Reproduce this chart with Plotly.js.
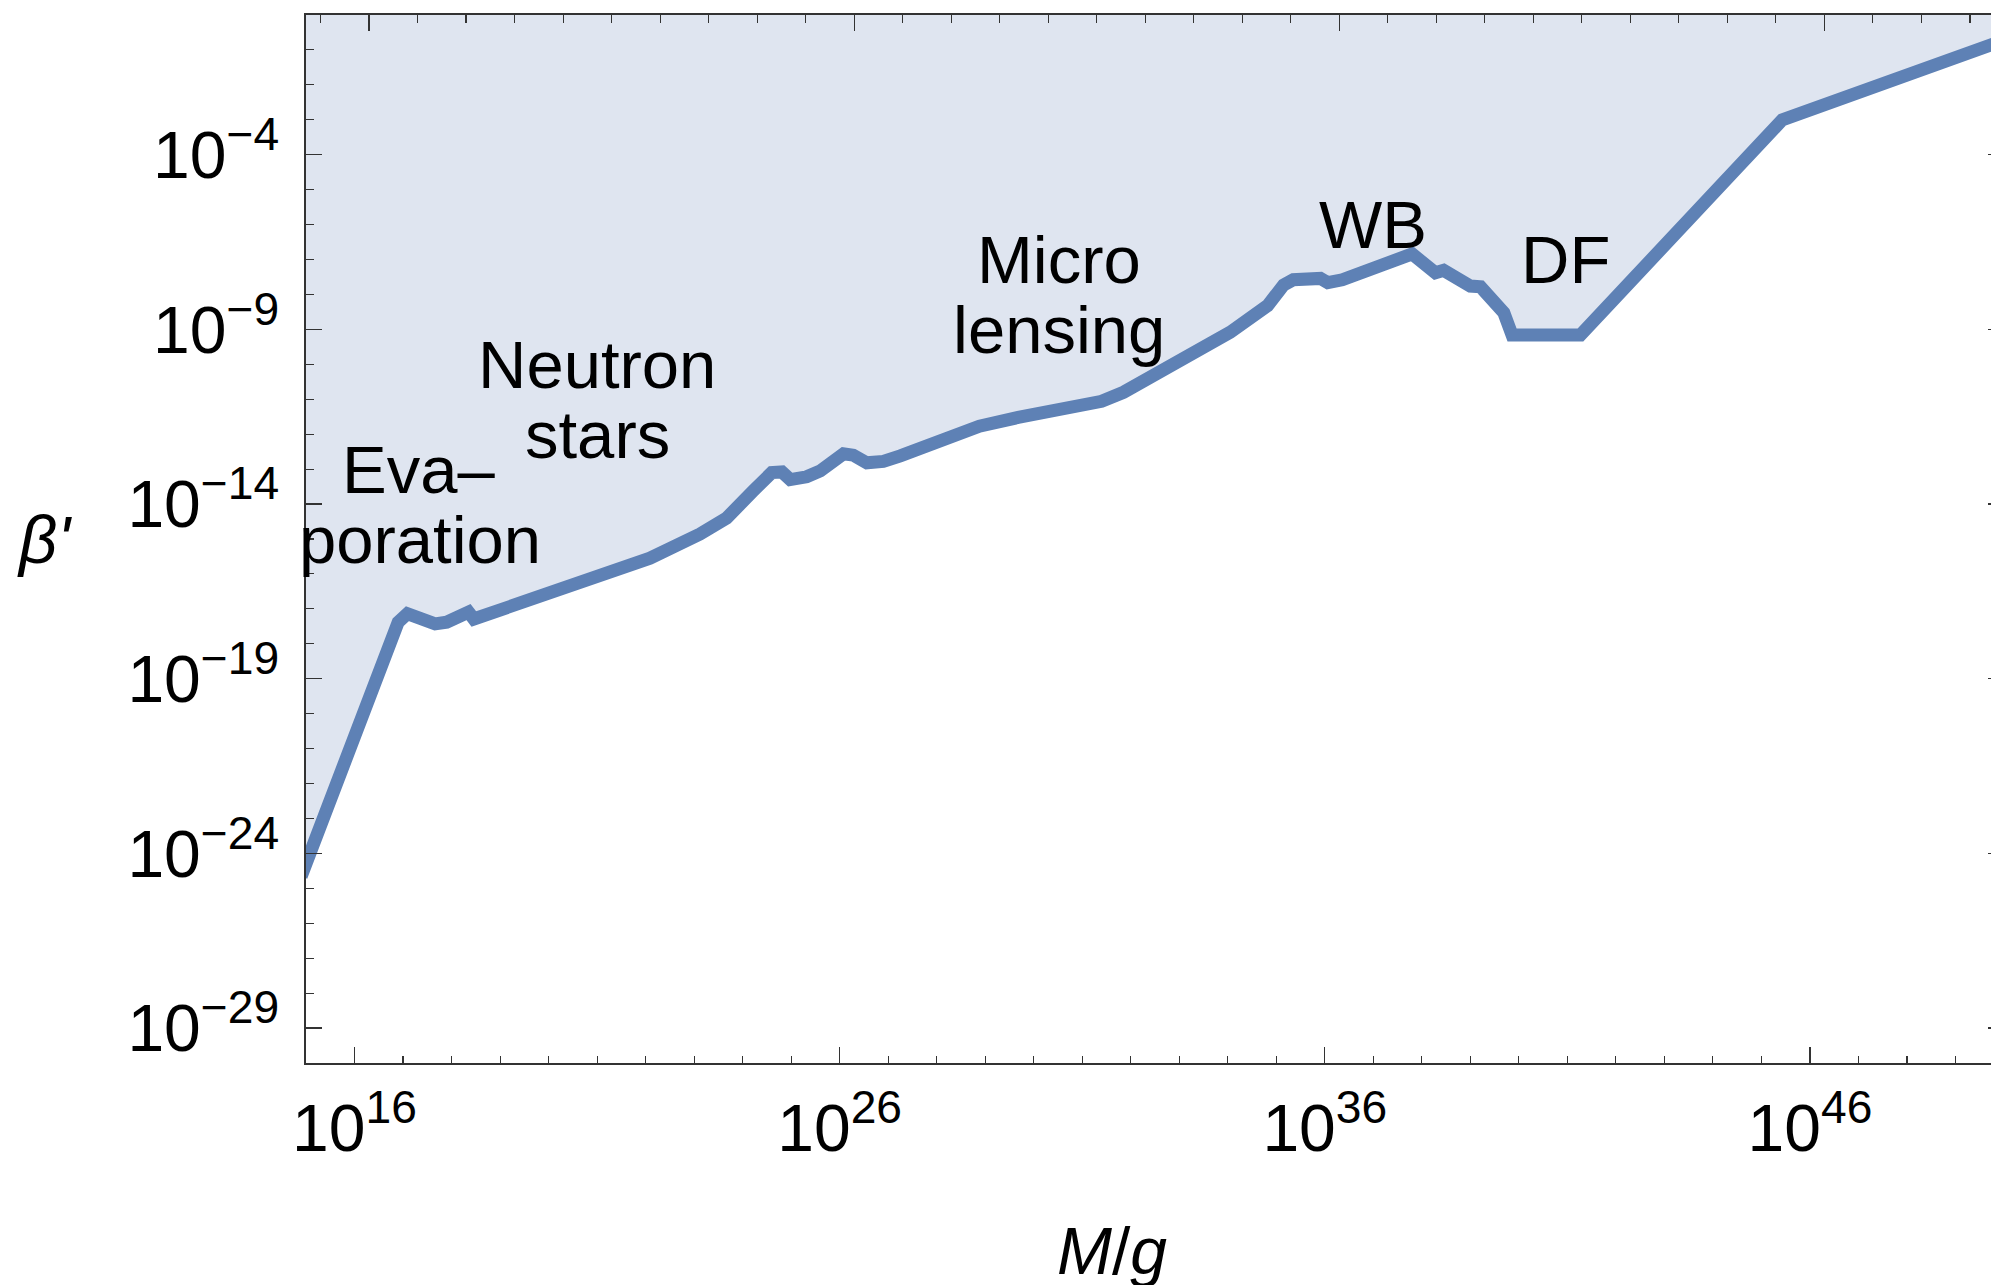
<!DOCTYPE html>
<html>
<head>
<meta charset="utf-8">
<script src="https://cdn.plot.ly/plotly-3.0.1.min.js"></script>
<style>
  html, body { margin: 0; padding: 0; overflow: hidden; background: #ffffff; }
  #chart { width: 2010px; height: 1285px; }
</style>
</head>
<body>
<div id="chart"></div>
<script>
// Upper bound on the primordial black hole fraction beta' versus mass M (grams).
// Both series are stored as powers of ten.
const massExp = [14.9, 16.90, 17.09, 17.42, 17.66, 17.90, 18.35, 18.46, 20.24, 22.09,
                 23.12, 23.67, 24.22, 24.60, 24.81, 24.98, 25.32, 25.60, 26.08, 26.28,
                 26.56, 26.90, 27.25, 27.87, 28.88, 29.68, 30.75, 31.40, 31.85, 32.32, 33.34,
                 34.05, 34.82, 35.15, 35.35, 35.70, 35.91, 36.06, 36.36, 37.80, 38.04,
                 38.28, 38.45, 39.00, 39.21, 39.69, 39.86, 41.27, 45.43, 50.0];
const betaExp = [-24.66, -17.38, -17.14, -17.33, -17.43, -17.38, -17.09, -17.29, -16.45, -15.55,
                 -14.86, -14.40, -13.62, -13.10, -13.08, -13.30, -13.22, -13.05, -12.56, -12.60,
                 -12.82, -12.78, -12.62, -12.28, -11.77, -11.52, -11.28, -11.06, -10.80, -10.42, -9.70,
                 -9.08, -8.32, -7.73, -7.58, -7.50, -7.54, -7.66, -7.58, -6.84, -7.10,
                 -7.38, -7.31, -7.76, -7.78, -8.52, -9.16, -9.16, -3.00, -0.72];

// Axis extents (powers of ten)
const xRangeExp = [15, 50];
const yRangeExp = [-30, 0];

// Tick marks and labels
const xMajorExp = [16, 26, 36, 46];
const xTickLabels = ['10<sup>16</sup>', '10<sup>26</sup>', '10<sup>36</sup>', '10<sup>46</sup>'];
const yMajorExp = [-29, -24, -19, -14, -9, -4];
const yTickLabels = ['10<sup>\u221229</sup>', '10<sup>\u221224</sup>', '10<sup>\u221219</sup>',
                     '10<sup>\u221214</sup>', '10<sup>\u22129</sup>', '10<sup>\u22124</sup>'];
// Top frame ticks mark decades of solar mass
const SOLAR_MASS_G = 1.989e33;
const topMajorSolarExp = [-17, -7, 3, 13];

// Constraint region labels
const regionLabels = ['Eva\u2013', 'poration', 'Neutron', 'stars', 'Micro', 'lensing', 'WB', 'DF'];
const regionLabelMassExp = [17.32, 17.35, 21.0, 21.0, 30.53, 30.52, 37.0, 40.96];
const regionLabelBetaExp = [-13.0, -15.0, -10.0, -12.0, -7.0, -9.0, -6.0, -7.0];

const pow10 = e => Math.pow(10, e);
const decades = (a, b) => { const out = []; for (let e = a; e <= b; e++) out.push(e); return out; };

const massG = massExp.map(pow10);
const beta = betaExp.map(pow10);

const lineColor = '#5e81b5';
const fillColor = '#dfe5f0';
const frameColor = '#333333';
const fontFamily = 'Liberation Sans, Arial, Helvetica, sans-serif';

// Ceiling of the plot, used as the upper edge of the excluded region
const ceiling = {
  x: massG, y: massG.map(() => pow10(yRangeExp[1])),
  mode: 'lines', line: { width: 0, color: fillColor },
  hoverinfo: 'skip', showlegend: false
};
const bound = {
  x: massG, y: beta,
  mode: 'lines', fill: 'tonexty', fillcolor: fillColor,
  line: { color: lineColor, width: 13 },
  showlegend: false
};
// Carrier for the top (solar-mass) frame axis
const topCarrier = {
  x: [pow10(xRangeExp[0]), pow10(xRangeExp[1])], y: [pow10(yRangeExp[0]), pow10(yRangeExp[0])],
  xaxis: 'x2', mode: 'none', hoverinfo: 'skip', showlegend: false
};

const xMinorExp = decades(xRangeExp[0], xRangeExp[1]).filter(e => !xMajorExp.includes(e));
const yMinorExp = decades(yRangeExp[0], yRangeExp[1]).filter(e => !yMajorExp.includes(e));
const topAll = decades(-18, 17).map(n => SOLAR_MASS_G * pow10(n));
const topMajor = topMajorSolarExp.map(n => SOLAR_MASS_G * pow10(n));
const topMinor = topAll.filter(v => !topMajor.includes(v));

const tickFont = { family: fontFamily, size: 66, color: '#000000' };
const labelFont = { family: fontFamily, size: 67, color: '#000000' };

const annotations = regionLabels.map((t, i) => ({
  x: regionLabelMassExp[i], y: regionLabelBetaExp[i], xref: 'x', yref: 'y',
  text: t, showarrow: false, xanchor: 'center', yanchor: 'middle',
  font: labelFont
}));
annotations.push({
  xref: 'paper', yref: 'paper', x: 0, y: 0.5, xshift: -262,
  text: "<i>\u03b2'</i>", showarrow: false, xanchor: 'center', yanchor: 'middle',
  font: labelFont
});
annotations.push({
  xref: 'paper', yref: 'paper', x: 0.4745, y: 0, yshift: -188,
  text: '<i>M</i>/<i>g</i>', showarrow: false, xanchor: 'center', yanchor: 'middle',
  font: { family: fontFamily, size: 66, color: '#000000' }
});

const layout = {
  width: 2010, height: 1285,
  margin: { l: 306, r: 6, t: 15, b: 222, pad: 0 },
  paper_bgcolor: '#ffffff', plot_bgcolor: '#ffffff',
  showlegend: false,
  xaxis: {
    type: 'log', range: xRangeExp, autorange: false,
    tickmode: 'array', tickvals: xMajorExp.map(pow10), ticktext: xTickLabels,
    ticks: 'inside', ticklen: 16, tickwidth: 1.2, tickcolor: frameColor,
    minor: { tickmode: 'array', tickvals: xMinorExp.map(pow10), ticks: 'inside', ticklen: 7.5, tickwidth: 1.1, tickcolor: frameColor, showgrid: false },
    showline: true, linecolor: frameColor, linewidth: 1.6, mirror: false,
    showgrid: false, zeroline: false, tickfont: tickFont, ticklabelstandoff: 7
  },
  xaxis2: {
    type: 'log', range: xRangeExp, autorange: false, overlaying: 'x', side: 'top', anchor: 'y',
    tickmode: 'array', tickvals: topMajor, showticklabels: false,
    ticks: 'inside', ticklen: 16, tickwidth: 1.2, tickcolor: frameColor,
    minor: { tickmode: 'array', tickvals: topMinor, ticks: 'inside', ticklen: 7.5, tickwidth: 1.1, tickcolor: frameColor, showgrid: false },
    showline: true, linecolor: frameColor, linewidth: 1.6,
    showgrid: false, zeroline: false
  },
  yaxis: {
    type: 'log', range: yRangeExp, autorange: false,
    tickmode: 'array', tickvals: yMajorExp.map(pow10), ticktext: yTickLabels,
    ticks: 'inside', ticklen: 16, tickwidth: 1.2, tickcolor: frameColor,
    minor: { tickmode: 'array', tickvals: yMinorExp.map(pow10), ticks: 'inside', ticklen: 7.5, tickwidth: 1.1, tickcolor: frameColor, showgrid: false },
    showline: true, linecolor: frameColor, linewidth: 1.6, mirror: 'ticks',
    showgrid: false, zeroline: false, tickfont: tickFont, ticklabelstandoff: 12
  },
  annotations: annotations
};

Plotly.newPlot('chart', [ceiling, bound, topCarrier], layout, { staticPlot: true, displayModeBar: false });
</script>
</body>
</html>
